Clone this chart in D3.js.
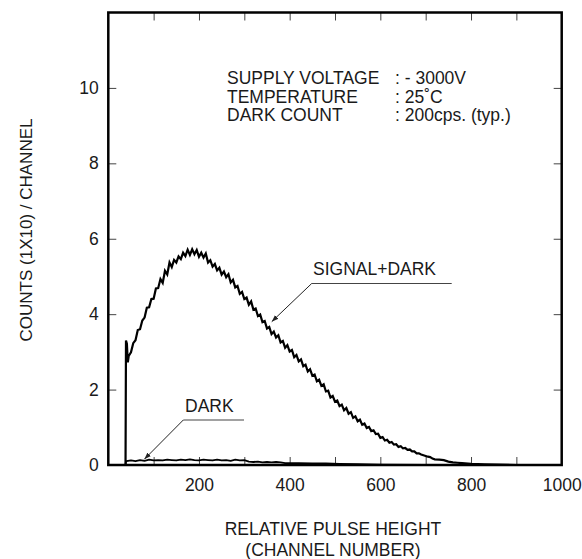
<!DOCTYPE html>
<html>
<head>
<meta charset="utf-8">
<script src="https://cdn.jsdelivr.net/npm/d3@7/dist/d3.min.js"></script>
<style>
  html, body { margin: 0; padding: 0; background: #fff; }
  svg text { font-family: "Liberation Sans", Arial, Helvetica, sans-serif; fill: #1a1a1a; }
</style>
</head>
<body>
<svg id="chart" width="582" height="559"></svg>
<script>
// ---------- data ----------
const xTickValues = [100, 200, 300, 400, 500, 600, 700, 800, 900];
const xTickLabels = [200, 400, 600, 800, 1000];
const yTickValues = [2, 4, 6, 8, 10];
const yTickLabels = [0, 2, 4, 6, 8, 10];

const signalChannels = [38, 39, 41, 43, 45, 50, 55, 60, 65, 70, 75, 80, 85, 90, 95, 100, 105, 110, 115, 120,
  125, 130, 135, 140, 145, 150, 155, 160, 165, 170, 175, 180, 185, 190, 195, 200, 205, 210, 215, 220,
  225, 230, 235, 240, 245, 250, 255, 260, 265, 270, 275, 280, 285, 290, 295, 300, 305, 310, 315, 320,
  325, 330, 335, 340, 345, 350, 355, 360, 365, 370, 375, 380, 385, 390, 395, 400, 405, 410, 415, 420,
  425, 430, 435, 440, 445, 450, 455, 460, 465, 470, 475, 480, 485, 490, 495, 500, 505, 510, 515, 520,
  525, 530, 535, 540, 545, 550, 555, 560, 565, 570, 575, 580, 585, 590, 595, 600, 605, 610, 615, 620,
  625, 630, 635, 640, 645, 650, 655, 660, 665, 670, 675, 680, 685, 690, 695, 700, 705, 710, 715, 720,
  730, 740, 750, 760, 770, 780, 800, 830, 860, 900, 1000];
const signalCounts = [0, 3.30, 3.22, 2.72, 2.89, 2.99, 3.23, 3.31, 3.58, 3.60, 3.83, 3.91, 4.17, 4.18, 4.40, 4.41, 4.68, 4.69, 4.93, 4.83,
  5.15, 5.05, 5.37, 5.25, 5.44, 5.37, 5.53, 5.46, 5.63, 5.54, 5.71, 5.57, 5.72, 5.59, 5.70, 5.52, 5.63, 5.50, 5.61, 5.37,
  5.43, 5.26, 5.33, 5.16, 5.23, 5.05, 5.13, 4.98, 5.06, 4.84, 4.91, 4.71, 4.75, 4.54, 4.59, 4.40, 4.44, 4.25, 4.34, 4.12,
  4.15, 3.95, 3.99, 3.79, 3.82, 3.62, 3.66, 3.47, 3.54, 3.38, 3.44, 3.25, 3.29, 3.11, 3.18, 3.01, 3.05, 2.86, 2.92, 2.75,
  2.80, 2.62, 2.66, 2.48, 2.54, 2.37, 2.40, 2.22, 2.26, 2.10, 2.14, 1.95, 1.97, 1.79, 1.83, 1.68, 1.71, 1.56, 1.60, 1.45,
  1.51, 1.36, 1.40, 1.25, 1.29, 1.16, 1.20, 1.07, 1.10, 0.98, 1.01, 0.90, 0.92, 0.82, 0.83, 0.72, 0.74, 0.65, 0.67, 0.59,
  0.61, 0.54, 0.55, 0.48, 0.50, 0.44, 0.45, 0.40, 0.41, 0.36, 0.36, 0.31, 0.31, 0.28, 0.26, 0.24, 0.22, 0.21, 0.17, 0.15,
  0.14, 0.13, 0.09, 0.07, 0.06, 0.05, 0.03, 0.02, 0.01, 0.0, 0.0];

const darkChannels = [38, 39, 40, 50, 60, 70, 80, 90, 100, 110, 120, 130, 140, 150, 160, 170, 180, 190, 200, 210,
  220, 230, 240, 250, 260, 270, 280, 290, 300, 310, 320, 330, 340, 350, 360, 370, 380, 390, 420, 450,
  480, 510, 550, 600, 700, 1000];
const darkCounts = [0, 0.10, 0.10, 0.12, 0.10, 0.13, 0.11, 0.14, 0.12, 0.13, 0.12, 0.14, 0.13, 0.12, 0.14, 0.13, 0.15, 0.13, 0.12, 0.14,
  0.13, 0.12, 0.14, 0.12, 0.13, 0.11, 0.14, 0.12, 0.13, 0.09, 0.08, 0.09, 0.07, 0.08, 0.07, 0.08, 0.07, 0.05, 0.05, 0.04,
  0.04, 0.03, 0.02, 0.01, 0.0, 0.0];

const infoLabels = ["SUPPLY VOLTAGE", "TEMPERATURE", "DARK COUNT"];
const infoValues = [": - 3000V", ": 25˚C", ": 200cps. (typ.)"];

// ---------- layout ----------
const svg = d3.select("#chart");
const x = d3.scaleLinear().domain([0, 1000]).range([108.3, 561.7]);
const y = d3.scaleLinear().domain([0, 12]).range([465, 12.5]);
const FS = 17.5;
const FONT = "Liberation Sans, Arial, sans-serif";

// ticks (inward) on all four sides
const tickStyle = g => g.call(g => g.select(".domain").remove())
  .call(g => g.selectAll(".tick line").attr("stroke", "#444").attr("stroke-width", 1))
  .call(g => g.selectAll(".tick text").remove());

svg.append("g").attr("transform", `translate(0,${y(0)})`)
  .call(d3.axisBottom(x).tickValues(xTickValues).tickSizeInner(-8).tickSizeOuter(0)).call(tickStyle);
svg.append("g").attr("transform", `translate(0,${y(12)})`)
  .call(d3.axisTop(x).tickValues(xTickValues).tickSizeInner(-8).tickSizeOuter(0)).call(tickStyle);
svg.append("g").attr("transform", `translate(${x(0)},0)`)
  .call(d3.axisLeft(y).tickValues(yTickValues).tickSizeInner(-8).tickSizeOuter(0)).call(tickStyle);
svg.append("g").attr("transform", `translate(${x(1000)},0)`)
  .call(d3.axisRight(y).tickValues(yTickValues).tickSizeInner(-8).tickSizeOuter(0)).call(tickStyle);

// tick labels
svg.append("g").attr("transform", `translate(0,${y(0)})`)
  .call(d3.axisBottom(x).tickValues(xTickLabels).tickFormat(d3.format("d")).tickSize(0).tickPadding(13.3))
  .call(g => g.select(".domain").remove())
  .call(g => g.selectAll("text").attr("font-size", FS).attr("fill", "#1a1a1a").attr("font-family", FONT));
svg.append("g").attr("transform", `translate(${x(0)},0)`)
  .call(d3.axisLeft(y).tickValues(yTickLabels).tickFormat(d3.format("d")).tickSize(0).tickPadding(9.5))
  .call(g => g.select(".domain").remove())
  .call(g => g.selectAll("text").attr("font-size", FS).attr("fill", "#1a1a1a").attr("font-family", FONT));

// curves
const line = d3.line().x(d => x(d[0])).y(d => y(d[1]));
const signalData = signalChannels.map((c, i) => [c, signalCounts[i]]);
const darkData = darkChannels.map((c, i) => [c, darkCounts[i]]);

svg.append("path").datum(darkData).attr("d", line)
  .attr("fill", "none").attr("stroke", "#000").attr("stroke-width", 1.8).attr("stroke-linejoin", "round");
svg.append("path").datum(signalData).attr("d", line)
  .attr("fill", "none").attr("stroke", "#000").attr("stroke-width", 2.2).attr("stroke-linejoin", "miter");

// frame
svg.append("rect").attr("x", x(0)).attr("y", y(12))
  .attr("width", x(1000) - x(0)).attr("height", y(0) - y(12))
  .attr("fill", "none").attr("stroke", "#000").attr("stroke-width", 2.5);

// info block
const info = svg.append("g");
infoLabels.forEach((t, i) => {
  info.append("text").attr("x", 227).attr("y", 84 + i * 18.5).attr("font-size", FS).text(t);
});
infoValues.forEach((t, i) => {
  info.append("text").attr("x", 395).attr("y", 84 + i * 18.5).attr("font-size", FS).text(t);
});

// annotations with leader lines
const defs = svg.append("defs");
defs.append("marker").attr("id", "arr").attr("viewBox", "0 0 10 10").attr("refX", 10).attr("refY", 5)
  .attr("markerWidth", 7).attr("markerHeight", 7).attr("orient", "auto")
  .append("path").attr("d", "M0,1.5 L10,5 L0,8.5 Z").attr("fill", "#222");

function annotate(label, tx, ty, lx0, lx1, ly, ax, ay) {
  svg.append("text").attr("x", tx).attr("y", ty).attr("font-size", FS).text(label);
  svg.append("line").attr("x1", lx0).attr("x2", lx1).attr("y1", ly).attr("y2", ly)
    .attr("stroke", "#444").attr("stroke-width", 1);
  svg.append("line").attr("x1", lx0).attr("y1", ly).attr("x2", ax).attr("y2", ay)
    .attr("stroke", "#222").attr("stroke-width", 1).attr("marker-end", "url(#arr)");
}
annotate("SIGNAL+DARK", 313, 275, 311.7, 451.7, 283.5, 271.7, 321.7);
annotate("DARK", 185, 411.5, 183.3, 244, 420, 144.3, 459.3);

// axis titles
svg.append("text").attr("x", 333).attr("y", 535).attr("text-anchor", "middle").attr("font-size", FS)
  .text("RELATIVE PULSE HEIGHT");
svg.append("text").attr("x", 333).attr("y", 556).attr("text-anchor", "middle").attr("font-size", FS)
  .text("(CHANNEL NUMBER)");
svg.append("text").attr("transform", "translate(31.5,230) rotate(-90)").attr("text-anchor", "middle")
  .attr("font-size", 17).text("COUNTS (1X10) / CHANNEL");
</script>
</body>
</html>
